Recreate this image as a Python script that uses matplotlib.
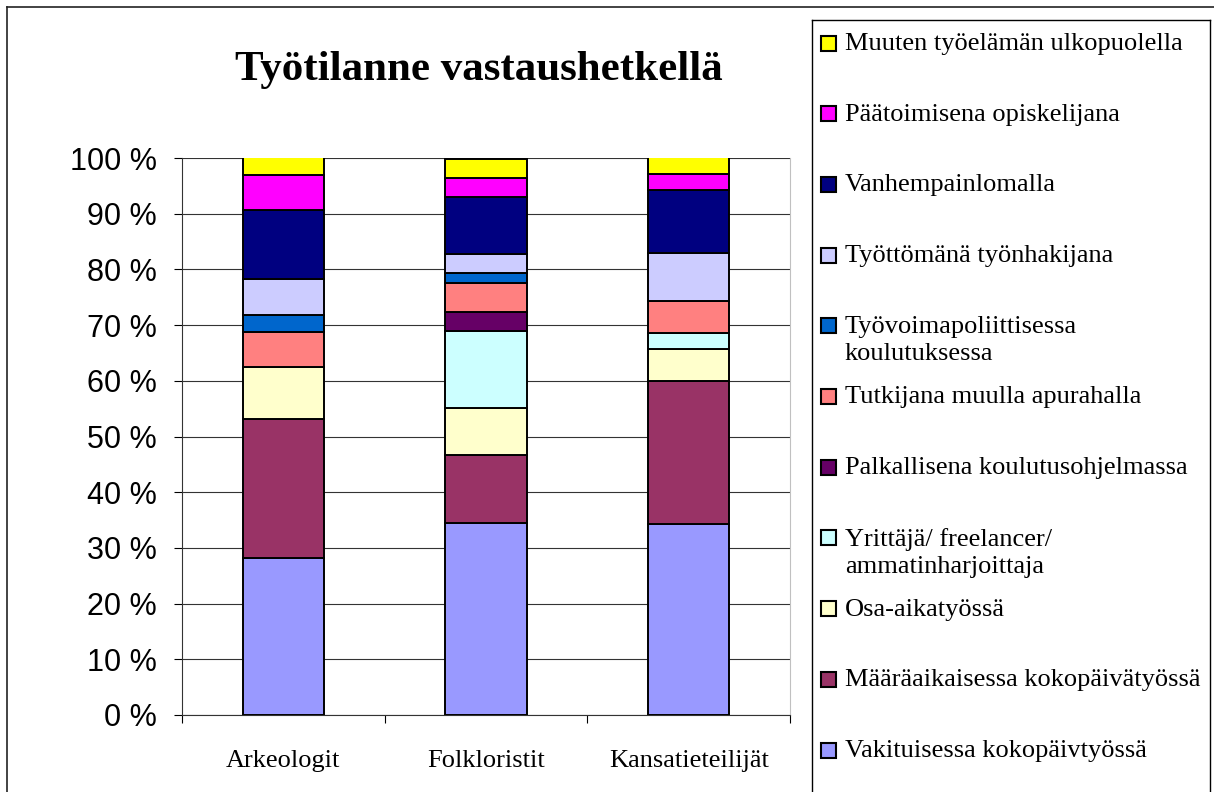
import numpy as np
import matplotlib
matplotlib.use("Agg")
import matplotlib.pyplot as plt
from matplotlib.patches import Rectangle
from matplotlib.lines import Line2D

# shares (%) per group
groups = ["Arkeologit", "Folkloristit", "Kansatieteilijät"]
series = [
    "Vakituisessa kokopäivtyössä",
    "Määräaikaisessa kokopäivätyössä",
    "Osa-aikatyössä",
    "Yrittäjä/ freelancer/\nammatinharjoittaja",
    "Palkallisena koulutusohjelmassa",
    "Tutkijana muulla apurahalla",
    "Työvoimapoliittisessa\nkoulutuksessa",
    "Työttömänä työnhakijana",
    "Vanhempainlomalla",
    "Päätoimisena opiskelijana",
    "Muuten työelämän ulkopuolella",
]
vakituinen = [28.1, 34.5, 34.3]
maaraaik = [25.0, 12.1, 25.7]
osa_aika = [9.4, 8.6, 5.7]
yrittaja = [0.0, 13.8, 2.9]
palkallinen = [0.0, 3.4, 0.0]
tutkija = [6.3, 5.2, 5.7]
tyovoima = [3.1, 1.7, 0.0]
tyoton = [6.3, 3.4, 8.6]
vanhempain = [12.5, 10.3, 11.4]
opiskelija = [6.3, 3.4, 2.9]
muuten = [3.1, 3.4, 2.9]

values = [vakituinen, maaraaik, osa_aika, yrittaja, palkallinen, tutkija,
          tyovoima, tyoton, vanhempain, opiskelija, muuten]
colors = ["#9999FF", "#993366", "#FFFFCC", "#CCFFFF", "#660066", "#FF8080",
          "#0066CC", "#CCCCFF", "#000080", "#FF00FF", "#FFFF00"]

serif = "Liberation Serif"
sans = "Liberation Sans"

W, H = 1214, 792
fig = plt.figure(figsize=(W / 100, H / 100), dpi=100)
ax = fig.add_axes([182 / W, 1 - 715 / H, (790 - 182) / W, (715 - 158) / H])

x = np.arange(len(groups))
bottom = np.zeros(len(groups))
handles = []
for vals, col in zip(values, colors):
    vals = np.array(vals)
    bars = ax.bar(x, vals, 0.4, bottom=bottom, color=col,
                  edgecolor="black", linewidth=1.4, zorder=3)
    handles.append(bars.patches[0])
    bottom += vals

ax.set_xlim(-0.5, 2.5)
ax.set_ylim(0, 100)
ax.set_yticks(np.arange(0, 101, 10))
ax.set_yticklabels([f"{v} %" for v in range(0, 101, 10)],
                   fontfamily=sans, fontsize=22)
ax.yaxis.grid(True, color="#333333", linewidth=0.8, zorder=0)
ax.tick_params(axis="y", length=6, width=0.8, pad=12, direction="out")

ax.set_xticks(x)
ax.set_xticklabels(groups, fontfamily=serif, fontsize=19)
ax.tick_params(axis="x", which="major", length=0, pad=25)
ax.set_xticks(np.arange(-0.5, 3, 1), minor=True)
ax.tick_params(axis="x", which="minor", length=6, width=0.8, direction="out")

ax.spines["top"].set_visible(False)
ax.spines["right"].set_color("#c0c0c0")
ax.spines["left"].set_color("#333333")
ax.spines["bottom"].set_color("#333333")

fig.text(479 / W, 1 - 70 / H, "Työtilanne vastaushetkellä",
         fontfamily=serif, fontsize=31, fontweight="bold",
         ha="center", va="center")

# outer chart frame (top and left edges visible)
fig.add_artist(Line2D([7 / W, 1], [1 - 7 / H, 1 - 7 / H], color="#222222", lw=1.2))
fig.add_artist(Line2D([7 / W, 7 / W], [0, 1 - 7 / H], color="#222222", lw=1.2))

# legend box, drawn Excel-style with the marker on the first text line
lx0, ly0, lx1 = 812, 20, 1210
fig.add_artist(Line2D([lx0 / W, lx1 / W], [1 - ly0 / H, 1 - ly0 / H], color="black", lw=1))
fig.add_artist(Line2D([lx0 / W, lx0 / W], [0, 1 - ly0 / H], color="black", lw=1))
fig.add_artist(Line2D([lx1 / W, lx1 / W], [0, 1 - ly0 / H], color="black", lw=1))

y_first, step = 43, 70.7
for i, (label, h) in enumerate(zip(series[::-1], handles[::-1])):
    yc = y_first + i * step
    fig.add_artist(Rectangle((821 / W, 1 - (yc + 7.5) / H), 15 / W, 15 / H,
                             facecolor=h.get_facecolor(), edgecolor="black",
                             linewidth=1.5, transform=fig.transFigure))
    fig.text(845 / W, 1 - (yc - 10) / H, label, fontfamily=serif, fontsize=19,
             ha="left", va="top", linespacing=1.3)

fig.savefig("out.png", dpi=100)
